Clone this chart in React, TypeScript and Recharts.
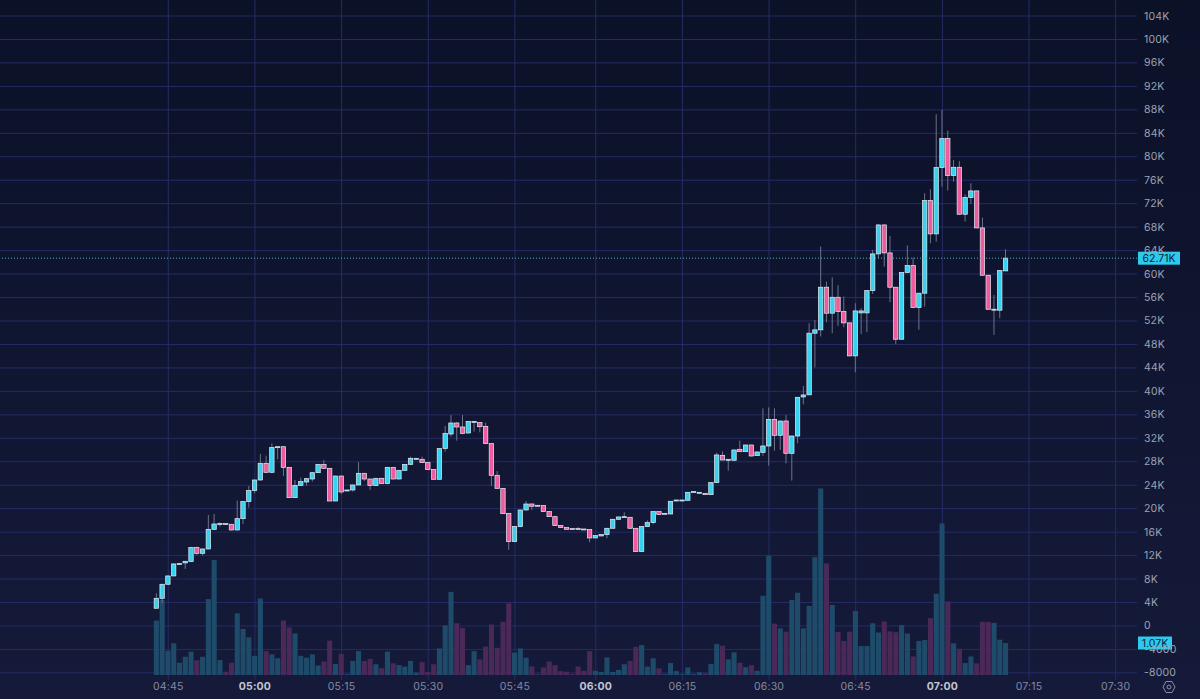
import { Bar, CartesianGrid, Cell, ComposedChart, ReferenceLine, XAxis, YAxis } from 'recharts';

// prices in thousands, one candle per minute slot
const opens = [
    3.02, 4.72, 7.11, 8.53, 10.52, 10.75, 10.97, 13.36, 12.39, 13.13, 16.48, 17.34, 17.45, 17.34, 16.37, 18.3, 21.2, 23.08, 24.89, 27.73,
    26.2, 30.46, 30.57, 27.05, 21.88, 23.98, 24.55, 25.06, 26.14, 27.56, 26.88, 21.31, 25.57, 23.02, 23.19, 24.04, 26.03, 25.06, 23.93, 25.18,
    24.27, 27.05, 25.06, 26.54, 27.56, 28.47, 28.42, 27.85, 26.66, 25.01, 30.24, 32.73, 34.61, 33.93, 32.9, 34.78, 34.67, 34.04, 31.09, 25.69,
    23.47, 19.21, 14.38, 16.94, 19.78, 20.8, 20.58, 20.52, 19.5, 18.64, 17.11, 16.77, 16.6, 16.6, 16.54, 16.43, 15.01, 15.35, 15.58, 16.66,
    18.19, 18.53, 18.53, 16.66, 12.68, 16.94, 17.62, 19.5, 19.1, 19.1, 21.37, 21.43, 21.43, 22.85, 22.73, 22.62, 22.39, 24.44, 29.1, 28.36,
    28.25, 30.12, 29.72, 30.86, 29.04, 29.61, 30.69, 35.23, 32.51, 34.95, 29.44, 32.39, 39.05, 39.41, 49.92, 50.49, 57.76, 53.33, 56.05, 53.61,
    51.68, 46.05, 53.38, 53.38, 57.19, 63.44, 68.38, 63.61, 57.76, 48.89, 60.26, 61.45, 54.29, 56.74, 72.53, 66.85, 78.16, 83.1, 76.79, 78.21,
    70.2, 73.04, 74.18, 67.87, 59.8, 53.84, 53.84, 60.54,
];
const closes = [
    4.72, 7.11, 8.53, 10.58, 10.63, 11.03, 13.36, 12.39, 13.13, 16.48, 17.39, 17.45, 17.34, 16.37, 18.3, 21.2, 23.08, 24.89, 27.73, 26.2,
    30.46, 30.57, 27.05, 21.88, 23.98, 24.61, 25.12, 26.14, 27.56, 26.88, 21.31, 25.57, 22.85, 23.19, 24.04, 26.03, 25.06, 23.93, 25.18, 24.27,
    27.05, 25.06, 26.54, 27.56, 28.59, 28.59, 27.85, 26.66, 25.01, 30.24, 32.85, 34.61, 33.93, 32.85, 34.89, 34.89, 33.98, 31.09, 25.69, 23.47,
    19.15, 14.38, 16.94, 19.78, 20.8, 20.41, 20.46, 19.5, 18.64, 17.11, 16.77, 16.48, 16.54, 16.54, 16.43, 15.01, 15.41, 15.58, 16.66, 18.19,
    18.59, 18.64, 16.66, 12.68, 16.94, 17.62, 19.5, 18.99, 19.21, 21.26, 21.48, 21.48, 22.79, 22.91, 22.79, 22.39, 24.44, 29.16, 28.3, 28.42,
    30.01, 29.72, 30.86, 28.98, 29.67, 30.69, 35.23, 32.51, 34.95, 29.44, 32.39, 38.99, 39.39, 49.92, 50.49, 57.76, 53.33, 56.05, 53.61, 51.68,
    46.05, 53.72, 53.72, 57.19, 63.44, 68.38, 63.61, 57.76, 48.89, 60.26, 61.45, 54.29, 56.74, 72.53, 66.85, 78.16, 83.1, 76.79, 78.21, 70.2,
    73.04, 74.18, 67.87, 59.8, 54.0, 54.01, 60.6, 62.71,
];
const highs = [
    5.57, 7.2, 8.6, 10.69, 10.7, 11.1, 13.5, 13.53, 13.2, 18.93, 19.1, 17.68, 17.5, 17.4, 21.37, 21.3, 23.87, 25.0, 29.33, 29.04,
    31.14, 30.6, 30.6, 27.1, 24.89, 25.29, 25.2, 26.2, 27.6, 28.3, 26.9, 25.6, 25.6, 23.2, 24.1, 27.91, 26.1, 25.1, 25.2, 25.2,
    27.1, 27.1, 26.6, 27.6, 28.87, 28.6, 28.87, 27.9, 26.7, 30.3, 34.1, 35.97, 34.78, 35.97, 34.95, 34.95, 34.7, 34.67, 31.1, 26.43,
    23.5, 19.25, 17.0, 19.8, 21.31, 20.85, 20.6, 20.55, 19.55, 18.7, 17.15, 16.8, 16.65, 16.88, 16.55, 16.45, 15.45, 15.6, 16.7, 18.25,
    18.6, 19.38, 18.55, 16.7, 17.0, 18.01, 19.55, 19.55, 19.25, 21.3, 21.5, 21.5, 22.85, 22.95, 22.8, 22.65, 24.5, 29.55, 29.78, 28.45,
    30.05, 31.6, 30.9, 30.9, 29.7, 37.11, 37.28, 37.11, 35.0, 35.97, 32.45, 39.05, 40.92, 51.62, 52.19, 64.69, 58.72, 59.46, 58.1, 56.17,
    51.75, 55.03, 54.18, 57.25, 64.12, 68.45, 68.45, 66.51, 57.8, 60.3, 64.86, 62.82, 56.8, 73.78, 74.46, 87.25, 87.99, 84.46, 79.46, 79.29,
    73.6, 75.49, 74.2, 69.63, 59.85, 56.45, 60.65, 64.24,
];
const lows = [
    3.0, 3.87, 7.1, 8.5, 10.5, 9.72, 10.9, 12.11, 12.0, 13.1, 16.4, 16.94, 17.3, 16.3, 16.3, 17.39, 20.18, 22.62, 24.8, 26.1,
    26.1, 28.42, 25.58, 21.8, 21.8, 23.93, 23.93, 24.61, 26.1, 26.8, 21.3, 21.3, 22.45, 23.0, 22.9, 24.0, 24.72, 23.19, 23.9, 24.2,
    24.2, 25.0, 25.0, 26.5, 27.5, 28.4, 27.8, 26.6, 25.0, 25.0, 29.72, 32.28, 31.6, 32.68, 32.85, 33.13, 33.02, 31.0, 23.87, 23.4,
    19.1, 12.96, 14.3, 16.9, 19.7, 19.78, 20.45, 19.45, 18.6, 17.05, 16.75, 16.45, 16.5, 16.5, 16.4, 14.27, 15.0, 15.3, 14.95, 16.6,
    18.15, 18.5, 16.6, 12.65, 12.65, 16.9, 17.34, 18.95, 19.05, 19.05, 21.35, 21.4, 21.4, 22.8, 22.7, 22.35, 22.35, 24.4, 28.25, 26.48,
    28.2, 29.7, 29.7, 28.9, 29.0, 29.04, 27.34, 29.89, 30.01, 27.73, 24.78, 31.15, 37.8, 39.35, 44.12, 49.35, 51.79, 49.92, 51.17, 50.94,
    46.0, 43.27, 49.75, 50.09, 56.62, 62.7, 61.28, 55.2, 48.04, 48.85, 60.2, 54.25, 50.49, 54.46, 65.26, 65.54, 74.92, 74.24, 75.77, 70.15,
    68.95, 71.96, 67.8, 59.75, 53.95, 49.63, 52.47, 60.5,
];
const volumes = [
    1.82, 2.51, 0.81, 1.06, 0.41, 0.61, 0.78, 0.49, 0.61, 2.54, 3.85, 0.5, 0.11, 0.41, 2.06, 1.54, 1.26, 0.64, 2.56, 0.8,
    0.69, 0.56, 1.82, 1.59, 1.39, 0.64, 0.58, 0.69, 0.32, 0.45, 1.15, 0.37, 0.7, 0.03, 0.47, 0.8, 0.47, 0.54, 0.36, 0.23,
    0.78, 0.39, 0.33, 0.28, 0.47, 0.08, 0.43, 0.1, 0.36, 0.89, 1.66, 2.78, 1.73, 1.57, 0.33, 0.8, 0.52, 0.95, 1.69, 0.91,
    1.78, 2.4, 0.75, 0.89, 0.58, 0.29, 0.03, 0.25, 0.45, 0.33, 0.13, 0.11, 0.03, 0.28, 0.14, 0.8, 0.14, 0.1, 0.59, 0.1,
    0.17, 0.36, 0.47, 0.94, 1.0, 0.28, 0.56, 0.22, 0.03, 0.4, 0.13, 0.03, 0.25, 0.03, 0.09, 0.06, 0.37, 1.04, 0.98, 0.52,
    0.76, 0.41, 0.26, 0.33, 0.14, 2.65, 3.99, 1.72, 1.56, 1.45, 2.51, 2.75, 1.56, 2.31, 3.94, 6.24, 3.73, 2.34, 1.44, 1.14,
    1.45, 2.14, 0.97, 0.97, 1.73, 1.42, 1.79, 1.46, 1.43, 1.67, 1.39, 0.62, 1.14, 1.17, 1.9, 2.72, 5.07, 2.46, 1.06, 0.88,
    0.4, 0.62, 0.39, 1.78, 1.77, 1.74, 1.18, 1.07,
];

// 05:45 -> 06:00 only spans 14 slots on the source chart
const timeSlots = [2, 17, 32, 47, 62, 76, 91, 106, 121, 136, 151, 166];
const timeLabels = ['04:45', '05:00', '05:15', '05:30', '05:45', '06:00', '06:15', '06:30', '06:45', '07:00', '07:15', '07:30'];
const boldLabels = ['05:00', '06:00', '07:00'];
const priceTicks = [-8, -4, 0, 4, 8, 12, 16, 20, 24, 28, 32, 36, 40, 44, 48, 52, 56, 60, 64, 68, 72, 76, 80, 84, 88, 92, 96, 100, 104];
const lastPrice = 62.71;
const lastVolume = 1.07;

const CYAN = '#37d2f0';
const PINK = '#ee5c9f';

const rows = opens.map((open, i) => ({
    slot: i,
    open,
    close: closes[i],
    range: [lows[i], highs[i]],
    volume: volumes[i],
}));

const formatPrice = (v: number) => (v === 0 ? '0' : v < 0 ? `${v * 1000}` : `${v}K`);

function Candle(props: any) {
    const { x, y, width, height, payload } = props;
    const [low, high] = payload.range;
    const perUnit = height / (high - low);
    const cx = x + width / 2;
    const top = y + (high - Math.max(payload.open, payload.close)) * perUnit;
    const bodyHeight = Math.max(Math.abs(payload.open - payload.close) * perUnit, 1);
    const up = payload.close >= payload.open;
    return (
        <g>
            <line x1={cx} x2={cx} y1={y} y2={y + height} stroke="#6e7289" strokeWidth={1} />
            <rect
                x={cx - 2.2}
                y={top}
                width={4.4}
                height={bodyHeight}
                fill={up ? CYAN : PINK}
                stroke="#e4ecf2"
                strokeWidth={0.7}
            />
        </g>
    );
}

function TimeTick({ x, y, payload }: any) {
    const label = timeLabels[timeSlots.indexOf(payload.value)];
    const bold = boldLabels.includes(label);
    return (
        <text
            x={x}
            y={y}
            textAnchor="middle"
            dominantBaseline="central"
            fontFamily="Inter"
            fontSize={10.5}
            fontWeight={bold ? 700 : 400}
            letterSpacing={0.2}
            fill={bold ? '#c3c6d2' : '#858aa1'}
        >
            {label}
        </text>
    );
}

function PriceTick({ x, y, payload }: any) {
    return (
        <text x={x - 1} y={y} dominantBaseline="central" fontFamily="Inter" fontSize={10.5} letterSpacing={0.2} fill="#9da1b3">
            {formatPrice(payload.value)}
        </text>
    );
}

function Badge({ viewBox, text, width }: any) {
    const left = viewBox.x + viewBox.width + 1;
    const mid = viewBox.y;
    return (
        <g>
            <rect x={left} y={mid - 6.5} width={width} height={13} fill="#2ccaec" />
            <text
                x={left + width / 2}
                y={mid}
                textAnchor="middle"
                dominantBaseline="central"
                fontFamily="Inter"
                fontSize={10.5}
                fill="#0d2238"
            >
                {text}
            </text>
        </g>
    );
}

export default function App() {
    return (
        <div
            style={{
                position: 'fixed',
                left: 0,
                top: 0,
                width: 1200,
                height: 699,
                background: 'linear-gradient(180deg, #0b1127 0%, #151a3a 100%)',
            }}
        >
            <ComposedChart width={1200} height={699} data={rows} margin={{ top: 0, right: 0, bottom: 0, left: 0 }}>
                <CartesianGrid stroke="#252c66" strokeWidth={1} syncWithTicks />
                <XAxis
                    type="number"
                    dataKey="slot"
                    domain={[-27.13, 169.69]}
                    ticks={timeSlots}
                    interval={0}
                    height={19}
                    axisLine={false}
                    tickLine={false}
                    tick={<TimeTick />}
                    tickMargin={0}
                    allowDataOverflow
                />
                <XAxis xAxisId="vol" type="number" dataKey="slot" domain={[-27.13, 169.69]} hide allowDataOverflow />
                <YAxis
                    orientation="right"
                    width={63}
                    domain={[-9.21, 106.73]}
                    ticks={priceTicks}
                    interval={0}
                    axisLine={false}
                    tickLine={false}
                    tick={<PriceTick />}
                    allowDataOverflow
                />
                <YAxis yAxisId="vol" orientation="right" width={0} hide domain={[-0.167, 22.57]} allowDataOverflow />
                <Bar xAxisId="vol" yAxisId="vol" dataKey="volume" barSize={5.1} isAnimationActive={false}>
                    {rows.map((r) => (
                        <Cell key={r.slot} fill={r.close >= r.open ? '#1f4b6b' : '#4a2958'} />
                    ))}
                </Bar>
                <Bar dataKey="range" barSize={5} shape={<Candle />} isAnimationActive={false} />
                <ReferenceLine
                    y={lastPrice}
                    stroke="#4fb3b8"
                    strokeDasharray="1 2"
                    label={<Badge text={`${lastPrice}K`} width={42} />}
                />
                <ReferenceLine
                    xAxisId="vol"
                    yAxisId="vol"
                    y={lastVolume}
                    stroke="none"
                    label={<Badge text={`${lastVolume}K`} width={34} />}
                />
            </ComposedChart>
            <svg width={14} height={14} viewBox="0 0 14 14" style={{ position: 'absolute', left: 1162, top: 680 }}>
                <path d="M4 1.5 H10 L13 7 L10 12.5 H4 L1 7 Z" fill="none" stroke="#8b8fa3" strokeWidth={1} />
                <circle cx={7} cy={7} r={2} fill="none" stroke="#8b8fa3" strokeWidth={1} />
            </svg>
        </div>
    );
}
